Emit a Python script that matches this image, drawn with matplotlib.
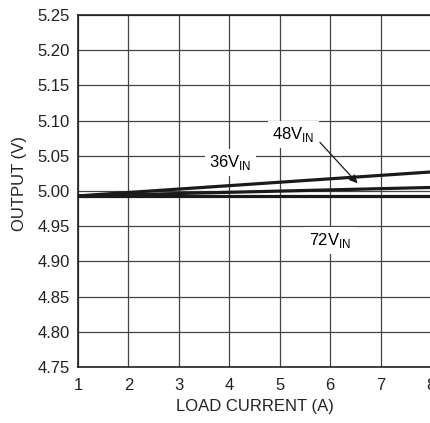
from matplotlib import pyplot as plt
import numpy as np

# load current (A) and output voltage (V) at each input voltage
load_current = [1, 8]
out_36v = [4.993, 5.027]
out_48v = [4.993, 5.005]
out_72v = [4.993, 4.993]

xticks = [1, 2, 3, 4, 5, 6, 7, 8]
yticks = [4.75, 4.80, 4.85, 4.90, 4.95, 5.00, 5.05, 5.10, 5.15, 5.20, 5.25]

plt.rcParams['font.family'] = ['Liberation Sans', 'DejaVu Sans']

fig = plt.figure(figsize=(4.31, 4.23), dpi=100)
ax = fig.add_axes([0.181, 0.132, 0.819, 0.833])

ax.plot(load_current, out_36v, color="#1a1a1a", lw=2.3, solid_capstyle="butt", zorder=3)
ax.plot(load_current, out_48v, color="#1a1a1a", lw=2.3, solid_capstyle="butt", zorder=3)
ax.plot(load_current, out_72v, color="#1a1a1a", lw=2.3, solid_capstyle="butt", zorder=3)

ax.set_xlim(1, 8)
ax.set_ylim(4.75, 5.25)
ax.set_xticks(xticks)
ax.set_yticks(yticks)
ax.set_xticklabels([str(t) for t in xticks])
ax.set_yticklabels(["%.2f" % t for t in yticks])
ax.tick_params(length=0, labelsize=12, colors="#222222", pad=6)
ax.tick_params(axis="x", pad=8)
ax.grid(True, color="#444444", lw=0.9)
for s in ax.spines.values():
    s.set_color("#222222")
    s.set_linewidth(1.2)

ax.set_xlabel("LOAD CURRENT (A)", fontsize=12, color="#222222", labelpad=4)
ax.set_ylabel("OUTPUT (V)", fontsize=12, color="#222222")
ax.yaxis.set_label_coords(-0.145, 0.52)

box = dict(facecolor="white", edgecolor="none", pad=3)
ax.text(4.02, 5.040, r"36V$_{\mathregular{IN}}$", fontsize=12, ha="center", va="center", bbox=box, zorder=4)
ax.text(5.27, 5.080, r"48V$_{\mathregular{IN}}$", fontsize=12, ha="center", va="center", bbox=box, zorder=4)
ax.text(6.0, 4.930, r"72V$_{\mathregular{IN}}$", fontsize=12, ha="center", va="center", bbox=box, zorder=4)
ax.annotate("", xy=(6.58, 5.008), xytext=(5.76, 5.072),
            arrowprops=dict(arrowstyle="-|>", color="#1a1a1a", lw=0.9, mutation_scale=12), zorder=4)

fig.savefig("out.png", dpi=100)
